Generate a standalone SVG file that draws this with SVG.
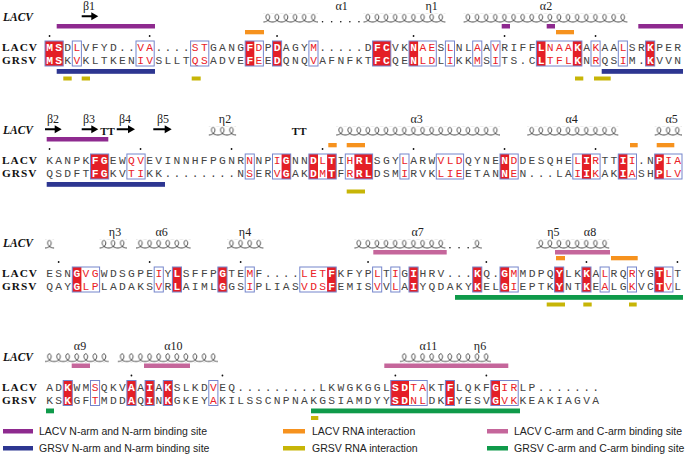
<svg xmlns="http://www.w3.org/2000/svg" width="685" height="468" viewBox="0 0 685 468">
<defs>
<style>
.lab{font-family:'Liberation Serif',serif;font-weight:bold;font-size:11.3px;letter-spacing:1px;fill:#111}
.labi{font-family:'Liberation Serif',serif;font-weight:bold;font-style:italic;font-size:11.5px;fill:#111}
.ss{font-family:'Liberation Serif',serif;font-size:12px;text-anchor:middle;fill:#222}
.tt{font-family:'Liberation Serif',serif;font-weight:bold;font-size:11px;text-anchor:middle;fill:#111}
.seq{font-family:'Liberation Mono',monospace;font-size:11.3px;letter-spacing:2.32px;fill:#444}
.r{fill:#ea2127}
.w{fill:#fff;font-weight:bold}
.fl{fill:#e41e26}
.box{fill:none;stroke:#7585cc;stroke-width:1}
.coil{fill:url(#coil)}
.arr{fill:#000}
.dot{fill:#111}
.leg{font-family:'Liberation Sans',Arial,sans-serif;font-size:10.5px;fill:#222}
.pu{fill:#8e2a8f}.bl{fill:#2d3691}.or{fill:#f6921e}.ye{fill:#c7b507}.pk{fill:#c5669b}.gr{fill:#0f9a4a}
</style>
<pattern id="coil" patternUnits="userSpaceOnUse" x="45" y="13.5" width="9.1" height="9.6">
<path d="M0,8.6 C3,8.6 6.2,6.6 6.2,3.7 C6.2,1.9 5.3,0.8 4.3,0.8 C3.3,0.8 2.6,1.9 2.6,3.5 C2.6,6.3 5.6,8.6 9.1,8.6" fill="none" stroke="#333" stroke-width="0.9"/>
</pattern>
</defs>
<rect width="685" height="468" fill="#fff"/>

<g id="block1">
<text class="labi" x="3" y="21">LACV</text>
<text class="ss" x="89" y="10">β1</text>
<text class="ss" x="341.7" y="10">α1</text>
<text class="ss" x="431.7" y="10">η1</text>
<text class="ss" x="546" y="10">α2</text>
<path class="arr" d="M81.7,15.3H91.3V12.3L98.3,16.3L91.3,20.3V17.3H81.7Z"/>
<rect class="coil" x="263.4" y="13.5" width="54.6" height="9.6"/>
<rect class="coil" x="363.5" y="13.5" width="81.9" height="9.6"/>
<rect class="coil" x="463.6" y="13.5" width="163.8" height="9.6"/>
<g class="dot"><circle cx="322.55" cy="21.8" r="0.8"/><circle cx="331.65" cy="21.8" r="0.8"/><circle cx="340.75" cy="21.8" r="0.8"/><circle cx="349.85" cy="21.8" r="0.8"/><circle cx="358.95" cy="21.8" r="0.8"/></g>
<rect class="pu" x="56.7" y="24" width="98.3" height="4.5"/>
<rect class="pu" x="501.7" y="24" width="8.3" height="4.5"/>
<rect class="pu" x="546.7" y="24" width="8.3" height="4.5"/>
<rect class="pu" x="638.3" y="24" width="44.7" height="4.5"/>
<rect class="or" x="245" y="30" width="19" height="4.3"/>
<rect class="or" x="556" y="30" width="18" height="4.3"/>
<g class="dot"><circle cx="49.55" cy="36" r="0.9"/><circle cx="149.65" cy="36" r="0.9"/><circle cx="277.05" cy="36" r="0.9"/><circle cx="413.55" cy="36" r="0.9"/><circle cx="504.55" cy="36" r="0.9"/><circle cx="595.55" cy="36" r="0.9"/></g>
<g class="fl"><rect x="45" y="41" width="18.2" height="25"/><rect x="245.2" y="41" width="9.1" height="25"/><rect x="272.5" y="41" width="9.1" height="25"/><rect x="372.6" y="41" width="18.2" height="25"/><rect x="409" y="41" width="9.1" height="25"/><rect x="536.4" y="41" width="9.1" height="25"/><rect x="572.8" y="41" width="9.1" height="25"/><rect x="645.6" y="41" width="9.1" height="25"/></g>
<text class="lab" x="2" y="51.4">LACV</text>
<text class="lab" x="2" y="64.2">GRSV</text>
<text class="seq" x="46.16" y="51.4"><tspan class="w">MS</tspan>D<tspan class="r">L</tspan>VFYD..<tspan class="r">VA</tspan>....<tspan class="r">ST</tspan>GANG<tspan class="w">F</tspan><tspan class="r">D</tspan>P<tspan class="w">D</tspan>AGY<tspan class="r">M</tspan>.....D<tspan class="w">FC</tspan>VK<tspan class="w">N</tspan><tspan class="r">AE</tspan>S<tspan class="r">L</tspan>NL<tspan class="r">A</tspan>A<tspan class="r">V</tspan>RIFF<tspan class="w">L</tspan><tspan class="r">NAA</tspan><tspan class="w">K</tspan>A<tspan class="r">K</tspan>AA<tspan class="r">L</tspan>SR<tspan class="w">K</tspan>PER</text>
<text class="seq" x="46.16" y="64.2"><tspan class="w">MS</tspan>K<tspan class="r">V</tspan>KLTKEN<tspan class="r">IV</tspan>SLLT<tspan class="r">QS</tspan>ADVE<tspan class="w">F</tspan><tspan class="r">E</tspan>E<tspan class="w">D</tspan>QNQ<tspan class="r">V</tspan>AFNFKT<tspan class="w">FC</tspan>QE<tspan class="w">N</tspan><tspan class="r">LD</tspan>L<tspan class="r">I</tspan>KK<tspan class="r">M</tspan>S<tspan class="r">I</tspan>TS.C<tspan class="w">L</tspan><tspan class="r">TFL</tspan><tspan class="w">K</tspan>N<tspan class="r">R</tspan>QS<tspan class="r">I</tspan>M.<tspan class="w">K</tspan>VVN</text>
<g class="box"><rect x="45" y="41" width="18.2" height="25"/><rect x="72.3" y="41" width="9.1" height="25"/><rect x="136" y="41" width="18.2" height="25"/><rect x="190.6" y="41" width="18.2" height="25"/><rect x="245.2" y="41" width="18.2" height="25"/><rect x="272.5" y="41" width="9.1" height="25"/><rect x="308.9" y="41" width="9.1" height="25"/><rect x="372.6" y="41" width="18.2" height="25"/><rect x="409" y="41" width="27.3" height="25"/><rect x="445.4" y="41" width="9.1" height="25"/><rect x="472.7" y="41" width="9.1" height="25"/><rect x="490.9" y="41" width="9.1" height="25"/><rect x="536.4" y="41" width="45.5" height="25"/><rect x="591" y="41" width="9.1" height="25"/><rect x="618.3" y="41" width="9.1" height="25"/><rect x="645.6" y="41" width="9.1" height="25"/></g>
<rect class="bl" x="56.7" y="69" width="98.3" height="4.8"/>
<rect class="bl" x="601.7" y="69" width="81.3" height="4.8"/>
<rect class="ye" x="63.3" y="76.5" width="8.4" height="4"/>
<rect class="ye" x="81.7" y="76.5" width="8.3" height="4"/>
<rect class="ye" x="191.7" y="76.5" width="9" height="4"/>
<rect class="ye" x="575" y="76.5" width="8.3" height="4"/>
<rect class="ye" x="594" y="76.5" width="16.7" height="4"/>
</g>

<g id="block2" transform="translate(0,113)">
<text class="labi" x="3" y="21">LACV</text>
<text class="ss" x="53" y="10">β2</text>
<text class="ss" x="89" y="10">β3</text>
<text class="ss" x="125" y="10">β4</text>
<text class="ss" x="163" y="10">β5</text>
<text class="ss" x="225" y="10">η2</text>
<text class="ss" x="416.7" y="10">α3</text>
<text class="ss" x="571.7" y="10">α4</text>
<text class="ss" x="671.7" y="10">α5</text>
<path class="arr" d="M45,15.3H54.7V12.3L61.7,16.3L54.7,20.3V17.3H45Z"/>
<path class="arr" d="M81.7,15.3H91.3V12.3L98.3,16.3L91.3,20.3V17.3H81.7Z"/>
<path class="arr" d="M116.7,15.3H128V12.3L135,16.3L128,20.3V17.3H116.7Z"/>
<path class="arr" d="M153.3,15.3H164.7V12.3L171.7,16.3L164.7,20.3V17.3H153.3Z"/>
<text class="tt" x="107.5" y="21.5">TT</text>
<text class="tt" x="299.2" y="21.5">TT</text>
<rect class="coil" x="208.8" y="13.5" width="27.3" height="9.6"/>
<rect class="coil" x="336.2" y="13.5" width="163.8" height="9.6"/>
<rect class="coil" x="527.3" y="13.5" width="91" height="9.6"/>
<rect class="coil" x="654.7" y="13.5" width="27.3" height="9.6"/>
<rect class="pu" x="46.7" y="24" width="61.6" height="4.5"/>
<rect class="or" x="328.3" y="30" width="8.4" height="4.3"/>
<rect class="or" x="346.7" y="30" width="18.3" height="4.3"/>
<rect class="or" x="630" y="30" width="7.7" height="4.3"/>
<rect class="or" x="656.7" y="30" width="17.6" height="4.3"/>
<g class="dot"><circle cx="49.55" cy="36" r="0.9"/><circle cx="140.55" cy="36" r="0.9"/><circle cx="231.55" cy="36" r="0.9"/><circle cx="322.55" cy="36" r="0.9"/><circle cx="413.55" cy="36" r="0.9"/><circle cx="504.55" cy="36" r="0.9"/><circle cx="595.55" cy="36" r="0.9"/></g>
<g class="fl"><rect x="90.5" y="41" width="18.2" height="25"/><rect x="281.6" y="41" width="9.1" height="25"/><rect x="308.9" y="41" width="9.1" height="25"/><rect x="327.1" y="41" width="9.1" height="25"/><rect x="354.4" y="41" width="18.2" height="25"/><rect x="500" y="41" width="9.1" height="25"/><rect x="581.9" y="41" width="9.1" height="25"/><rect x="618.3" y="41" width="9.1" height="25"/><rect x="654.7" y="41" width="9.1" height="25"/></g>
<text class="lab" x="2" y="51.4">LACV</text>
<text class="lab" x="2" y="64.2">GRSV</text>
<text class="seq" x="46.16" y="51.4">KANPK<tspan class="w">FG</tspan>EW<tspan class="r">QV</tspan>EVINNHFPGNR<tspan class="r">N</tspan>NP<tspan class="r">I</tspan><tspan class="w">G</tspan>NN<tspan class="w">D</tspan><tspan class="r">L</tspan><tspan class="w">T</tspan>I<tspan class="r">H</tspan><tspan class="w">RL</tspan>SGY<tspan class="r">L</tspan>ARW<tspan class="r">VLD</tspan>QYNE<tspan class="w">N</tspan><tspan class="r">D</tspan>DESQHE<tspan class="r">L</tspan><tspan class="w">I</tspan><tspan class="r">R</tspan>TT<tspan class="w">I</tspan><tspan class="r">I</tspan>.N<tspan class="w">P</tspan><tspan class="r">IA</tspan></text>
<text class="seq" x="46.16" y="64.2">QSDFT<tspan class="w">FG</tspan>KV<tspan class="r">TI</tspan>KK........N<tspan class="r">S</tspan>ER<tspan class="r">V</tspan><tspan class="w">G</tspan>AK<tspan class="w">D</tspan><tspan class="r">M</tspan><tspan class="w">T</tspan>F<tspan class="r">R</tspan><tspan class="w">RL</tspan>DSM<tspan class="r">I</tspan>RVK<tspan class="r">LIE</tspan>ETAN<tspan class="w">N</tspan><tspan class="r">E</tspan>N...LA<tspan class="r">I</tspan><tspan class="w">I</tspan><tspan class="r">K</tspan>AK<tspan class="w">I</tspan><tspan class="r">A</tspan>SH<tspan class="w">P</tspan><tspan class="r">LV</tspan></text>
<g class="box"><rect x="90.5" y="41" width="18.2" height="25"/><rect x="126.9" y="41" width="18.2" height="25"/><rect x="245.2" y="41" width="9.1" height="25"/><rect x="272.5" y="41" width="18.2" height="25"/><rect x="308.9" y="41" width="27.3" height="25"/><rect x="345.3" y="41" width="27.3" height="25"/><rect x="399.9" y="41" width="9.1" height="25"/><rect x="436.3" y="41" width="27.3" height="25"/><rect x="500" y="41" width="18.2" height="25"/><rect x="572.8" y="41" width="27.3" height="25"/><rect x="618.3" y="41" width="18.2" height="25"/><rect x="654.7" y="41" width="27.3" height="25"/></g>
<rect class="bl" x="46.7" y="69" width="118.3" height="4.8"/>
<rect class="ye" x="346.7" y="76.5" width="18.3" height="4"/>
</g>

<g id="block3" transform="translate(0,226)">
<text class="labi" x="3" y="21">LACV</text>
<text class="ss" x="115" y="10">η3</text>
<text class="ss" x="161.7" y="10">α6</text>
<text class="ss" x="245" y="10">η4</text>
<text class="ss" x="417.7" y="10">α7</text>
<text class="ss" x="553.3" y="10">η5</text>
<text class="ss" x="590" y="10">α8</text>
<rect class="coil" x="45" y="13.5" width="9.1" height="9.6"/>
<rect class="coil" x="99.6" y="13.5" width="27.3" height="9.6"/>
<rect class="coil" x="136" y="13.5" width="54.6" height="9.6"/>
<rect class="coil" x="227" y="13.5" width="36.4" height="9.6"/>
<rect class="coil" x="354.4" y="13.5" width="91" height="9.6"/>
<rect class="coil" x="472.7" y="13.5" width="9.1" height="9.6"/>
<rect class="coil" x="536.4" y="13.5" width="72.8" height="9.6"/>
<g class="dot"><circle cx="449.95" cy="21.8" r="0.8"/><circle cx="459.05" cy="21.8" r="0.8"/><circle cx="468.15" cy="21.8" r="0.8"/></g>
<rect class="pk" x="373.3" y="24" width="73.4" height="4.5"/>
<rect class="pk" x="555" y="24" width="55" height="4.5"/>
<rect class="or" x="556" y="30" width="9" height="4.3"/>
<rect class="or" x="611" y="30" width="26.7" height="4.3"/>
<g class="dot"><circle cx="58.65" cy="36" r="0.9"/><circle cx="149.65" cy="36" r="0.9"/><circle cx="240.65" cy="36" r="0.9"/><circle cx="368.05" cy="36" r="0.9"/><circle cx="486.35" cy="36" r="0.9"/><circle cx="586.45" cy="36" r="0.9"/><circle cx="677.45" cy="36" r="0.9"/></g>
<g class="fl"><rect x="72.3" y="41" width="9.1" height="25"/><rect x="172.4" y="41" width="9.1" height="25"/><rect x="217.9" y="41" width="9.1" height="25"/><rect x="327.1" y="41" width="9.1" height="25"/><rect x="409" y="41" width="9.1" height="25"/><rect x="472.7" y="41" width="9.1" height="25"/><rect x="500" y="41" width="9.1" height="25"/><rect x="554.6" y="41" width="9.1" height="25"/><rect x="581.9" y="41" width="9.1" height="25"/><rect x="654.7" y="41" width="9.1" height="25"/></g>
<text class="lab" x="2" y="51.4">LACV</text>
<text class="lab" x="2" y="64.2">GRSV</text>
<text class="seq" x="46.16" y="51.4">ESN<tspan class="w">G</tspan><tspan class="r">VG</tspan>WDSGPE<tspan class="r">I</tspan>Y<tspan class="w">L</tspan>SFFP<tspan class="w">G</tspan>TE<tspan class="r">M</tspan>F....<tspan class="r">LET</tspan><tspan class="w">F</tspan>KFYP<tspan class="r">L</tspan>T<tspan class="r">I</tspan>G<tspan class="w">I</tspan>HRV...<tspan class="w">K</tspan>Q.<tspan class="w">G</tspan><tspan class="r">M</tspan>MDPQ<tspan class="w">Y</tspan>LK<tspan class="w">K</tspan>A<tspan class="r">L</tspan>RQ<tspan class="r">R</tspan>YG<tspan class="w">T</tspan><tspan class="r">L</tspan>T</text>
<text class="seq" x="46.16" y="64.2">QAY<tspan class="w">G</tspan><tspan class="r">LP</tspan>LADAKS<tspan class="r">V</tspan>R<tspan class="w">L</tspan>AIML<tspan class="w">G</tspan>GS<tspan class="r">I</tspan>PLIAS<tspan class="r">VDS</tspan><tspan class="w">F</tspan>EMIS<tspan class="r">V</tspan>V<tspan class="r">L</tspan>A<tspan class="w">I</tspan>YQDAKY<tspan class="w">K</tspan>EL<tspan class="w">G</tspan><tspan class="r">I</tspan>EPTK<tspan class="w">Y</tspan>NT<tspan class="w">K</tspan>E<tspan class="r">A</tspan>LG<tspan class="r">K</tspan>VC<tspan class="w">T</tspan><tspan class="r">V</tspan>L</text>
<g class="box"><rect x="72.3" y="41" width="27.3" height="25"/><rect x="154.2" y="41" width="9.1" height="25"/><rect x="172.4" y="41" width="9.1" height="25"/><rect x="217.9" y="41" width="9.1" height="25"/><rect x="245.2" y="41" width="9.1" height="25"/><rect x="299.8" y="41" width="36.4" height="25"/><rect x="372.6" y="41" width="9.1" height="25"/><rect x="390.8" y="41" width="9.1" height="25"/><rect x="409" y="41" width="9.1" height="25"/><rect x="472.7" y="41" width="9.1" height="25"/><rect x="500" y="41" width="18.2" height="25"/><rect x="554.6" y="41" width="9.1" height="25"/><rect x="581.9" y="41" width="9.1" height="25"/><rect x="600.1" y="41" width="9.1" height="25"/><rect x="627.4" y="41" width="9.1" height="25"/><rect x="654.7" y="41" width="18.2" height="25"/></g>
<rect class="gr" x="455" y="69" width="228" height="4.8"/>
<rect class="ye" x="546.7" y="76.5" width="18.3" height="4"/>
<rect class="ye" x="583.3" y="76.5" width="8.4" height="4"/>
<rect class="ye" x="629" y="76.5" width="7.7" height="4"/>
</g>

<g id="block4" transform="translate(0,339.5)">
<text class="labi" x="3" y="21">LACV</text>
<text class="ss" x="80" y="10">α9</text>
<text class="ss" x="173.3" y="10">α10</text>
<text class="ss" x="428.3" y="10">α11</text>
<text class="ss" x="480" y="10">η6</text>
<rect class="coil" x="45" y="13.5" width="63.7" height="9.6"/>
<rect class="coil" x="117.8" y="13.5" width="100.1" height="9.6"/>
<rect class="coil" x="399.9" y="13.5" width="91" height="9.6"/>
<rect class="pk" x="71.7" y="24" width="18.3" height="4.5"/>
<rect class="pk" x="144" y="24" width="46" height="4.5"/>
<rect class="pk" x="384.3" y="24" width="124" height="4.5"/>
<g class="dot"><circle cx="131.45" cy="36" r="0.9"/><circle cx="222.45" cy="36" r="0.9"/><circle cx="395.35" cy="36" r="0.9"/><circle cx="486.35" cy="36" r="0.9"/></g>
<g class="fl"><rect x="63.2" y="41" width="9.1" height="25"/><rect x="126.9" y="41" width="9.1" height="25"/><rect x="145.1" y="41" width="9.1" height="25"/><rect x="163.3" y="41" width="9.1" height="25"/><rect x="390.8" y="41" width="18.2" height="25"/><rect x="445.4" y="41" width="9.1" height="25"/><rect x="490.9" y="41" width="9.1" height="25"/></g>
<text class="lab" x="2" y="51.4">LACV</text>
<text class="lab" x="2" y="64.2">GRSV</text>
<text class="seq" x="46.16" y="51.4">AD<tspan class="w">K</tspan>WM<tspan class="r">S</tspan>QKV<tspan class="w">A</tspan>A<tspan class="w">I</tspan>A<tspan class="w">K</tspan>SLKD<tspan class="r">V</tspan>EQ.........LKWGKGGL<tspan class="w">SD</tspan><tspan class="r">TA</tspan>KT<tspan class="w">F</tspan>LQKF<tspan class="w">G</tspan><tspan class="r">IR</tspan>LP.......</text>
<text class="seq" x="46.16" y="64.2">KS<tspan class="w">K</tspan>GF<tspan class="r">T</tspan>MDD<tspan class="w">A</tspan>Q<tspan class="w">I</tspan>N<tspan class="w">K</tspan>GKEY<tspan class="r">A</tspan>KILSSCNPNAKGSIAMDYY<tspan class="w">SD</tspan><tspan class="r">NL</tspan>DK<tspan class="w">F</tspan>YESV<tspan class="w">G</tspan><tspan class="r">VK</tspan>KEAKIAGVA</text>
<g class="box"><rect x="63.2" y="41" width="9.1" height="25"/><rect x="90.5" y="41" width="9.1" height="25"/><rect x="126.9" y="41" width="9.1" height="25"/><rect x="145.1" y="41" width="9.1" height="25"/><rect x="163.3" y="41" width="9.1" height="25"/><rect x="208.8" y="41" width="9.1" height="25"/><rect x="390.8" y="41" width="36.4" height="25"/><rect x="445.4" y="41" width="9.1" height="25"/><rect x="490.9" y="41" width="27.3" height="25"/></g>
<rect class="gr" x="46" y="69" width="8" height="4.8"/>
<rect class="gr" x="311" y="69" width="209" height="4.8"/>
<rect class="ye" x="311" y="76.5" width="7.3" height="4"/>
</g>

<g id="legend">
<rect class="pu" x="3" y="429" width="30" height="4.5"/>
<text class="leg" x="39" y="435">LACV N-arm and N-arm binding site</text>
<rect class="or" x="283" y="429" width="22" height="4.5"/>
<text class="leg" x="312" y="435">LACV RNA interaction</text>
<rect class="pk" x="487" y="429" width="21" height="4.5"/>
<text class="leg" x="514" y="435">LACV C-arm and C-arm binding site</text>
<rect class="bl" x="3" y="446" width="30" height="4.5"/>
<text class="leg" x="39" y="452">GRSV N-arm and N-arm binding site</text>
<rect class="ye" x="283" y="446" width="22" height="4.5"/>
<text class="leg" x="312" y="452">GRSV RNA interaction</text>
<rect class="gr" x="487" y="446" width="21" height="4.5"/>
<text class="leg" x="514" y="452">GRSV C-arm and C-arm binding site</text>
</g>
</svg>
